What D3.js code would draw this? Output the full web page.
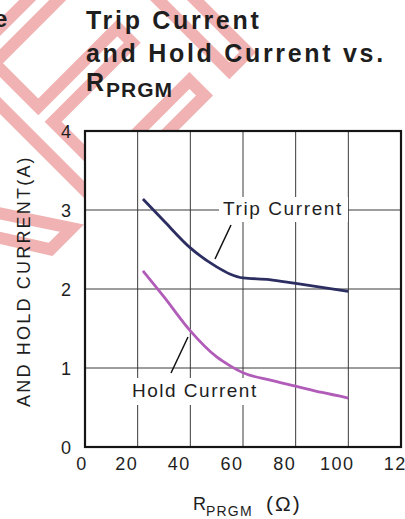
<!DOCTYPE html>
<html>
<head>
<meta charset="utf-8">
<script src="https://cdn.jsdelivr.net/npm/d3@7"></script>
<style>
html,body{margin:0;padding:0;background:#fff;}
svg{display:block;font-family:"Liberation Sans",Arial,sans-serif;}
</style>
</head>
<body>
<svg id="chart" width="405" height="519"></svg>
<script>
// ---- data ----
const xTicks = [0, 20, 40, 60, 80, 100, 120];
const yTicks = [0, 1, 2, 3, 4];
const rprgm = [22, 30, 40, 50, 55, 60, 70, 80, 90, 100];
const tripCurrent = [3.14, 2.86, 2.52, 2.28, 2.19, 2.14, 2.12, 2.07, 2.02, 1.97];
const holdCurrent = [2.23, 1.90, 1.47, 1.14, 1.03, 0.94, 0.85, 0.77, 0.69, 0.62];
const titleLines = ["Trip Current", "and Hold Current vs."];
const yLabel = "AND HOLD CURRENT(A)";
const watermark = "REFERENCE";

// ---- layout ----
const svg = d3.select("#chart");
const L = 85, R = 401, T = 131, B = 447;
const x = d3.scaleLinear().domain([0, 120]).range([L, R]);
const y = d3.scaleLinear().domain([0, 4]).range([B, T]);
const ink = "#1e1e1e";

// watermark (hollow letters)
svg.append("text").attr("transform", "translate(-62,362) rotate(-45)")
  .attr("font-size", 280).attr("fill", "none")
  .attr("stroke", "#f0b2b2").attr("stroke-width", 12).attr("stroke-linejoin", "miter")
  .text(watermark);

// title
svg.append("text").attr("x", -6).attr("y", 27)
  .attr("font-size", 24).attr("font-weight", "bold").attr("fill", ink).text("e");
titleLines.forEach((t, i) => {
  svg.append("text").attr("x", 86).attr("y", 29 + i * 33)
    .attr("font-size", 25).attr("font-weight", "bold")
    .attr("letter-spacing", 2.7).attr("fill", ink).text(t);
});
const t3 = svg.append("text").attr("x", 86).attr("y", 91)
  .attr("font-size", 25).attr("font-weight", "bold").attr("fill", ink);
t3.append("tspan").text("R");
t3.append("tspan").attr("font-size", 21).attr("dy", 6).attr("dx", 2)
  .attr("letter-spacing", 1).text("PRGM");

// plot background
svg.append("rect").attr("x", L).attr("y", T).attr("width", R - L).attr("height", B - T).attr("fill", "#fff");

// grid
const grid = svg.append("g").attr("stroke", "#3a3a3a").attr("stroke-width", 1);
grid.selectAll("line.v").data(xTicks.slice(1, -1)).join("line")
  .attr("x1", d => x(d)).attr("x2", d => x(d)).attr("y1", T).attr("y2", B);
grid.selectAll("line.h").data(yTicks.slice(1, -1)).join("line")
  .attr("y1", d => y(d)).attr("y2", d => y(d)).attr("x1", L).attr("x2", R);

// label knockouts
svg.append("rect").attr("x", 219).attr("y", 197).attr("width", 129).attr("height", 25).attr("fill", "#fff");
svg.append("rect").attr("x", 128).attr("y", 378).attr("width", 133).attr("height", 27).attr("fill", "#fff");

// frame
svg.append("rect").attr("x", L).attr("y", T).attr("width", R - L).attr("height", B - T)
  .attr("fill", "none").attr("stroke", "#151515").attr("stroke-width", 2.2);

// curves
const line = d3.line().x(d => x(d[0])).y(d => y(d[1])).curve(d3.curveMonotoneX);
svg.append("path").datum(rprgm.map((r, i) => [r, tripCurrent[i]]))
  .attr("d", line).attr("fill", "none").attr("stroke", "#2c2e62").attr("stroke-width", 2.8);
svg.append("path").datum(rprgm.map((r, i) => [r, holdCurrent[i]]))
  .attr("d", line).attr("fill", "none").attr("stroke", "#b15cb8").attr("stroke-width", 2.8);

// annotations
svg.append("text").attr("x", 223).attr("y", 215).attr("font-size", 19)
  .attr("letter-spacing", 1.6).attr("fill", ink).text("Trip Current");
svg.append("line").attr("x1", 231).attr("y1", 225).attr("x2", 215).attr("y2", 259)
  .attr("stroke", "#111").attr("stroke-width", 1.5);
svg.append("text").attr("x", 132).attr("y", 397).attr("font-size", 19)
  .attr("letter-spacing", 1.5).attr("fill", ink).text("Hold Current");
svg.append("line").attr("x1", 188).attr("y1", 337).attr("x2", 171).attr("y2", 373)
  .attr("stroke", "#111").attr("stroke-width", 1.5);

// tick labels
svg.selectAll("text.yt").data(yTicks).join("text")
  .attr("x", 71).attr("y", d => y(d) + 6.5).attr("text-anchor", "end")
  .attr("font-size", 18).attr("fill", ink).text(d => d);
svg.selectAll("text.xt").data(xTicks).join("text")
  .attr("x", d => x(d) - (d === 0 ? 3 : d === 120 ? 0 : 11)).attr("y", 470).attr("text-anchor", "middle")
  .attr("font-size", 18).attr("letter-spacing", 1.5).attr("fill", ink).text(d => d);

// axis titles
svg.append("text").attr("transform", "translate(30,407) rotate(-90)")
  .attr("font-size", 18).attr("letter-spacing", 2.2).attr("fill", ink).text(yLabel);
const xl = svg.append("text").attr("x", 193).attr("y", 510).attr("font-size", 18).attr("fill", ink);
xl.append("tspan").text("R");
xl.append("tspan").attr("font-size", 14).attr("dy", 6).attr("letter-spacing", 1.2).text("PRGM");
xl.append("tspan").attr("x", 266).attr("dy", -5).attr("font-size", 21).attr("letter-spacing", 2).text("(Ω)");
</script>
</body>
</html>
